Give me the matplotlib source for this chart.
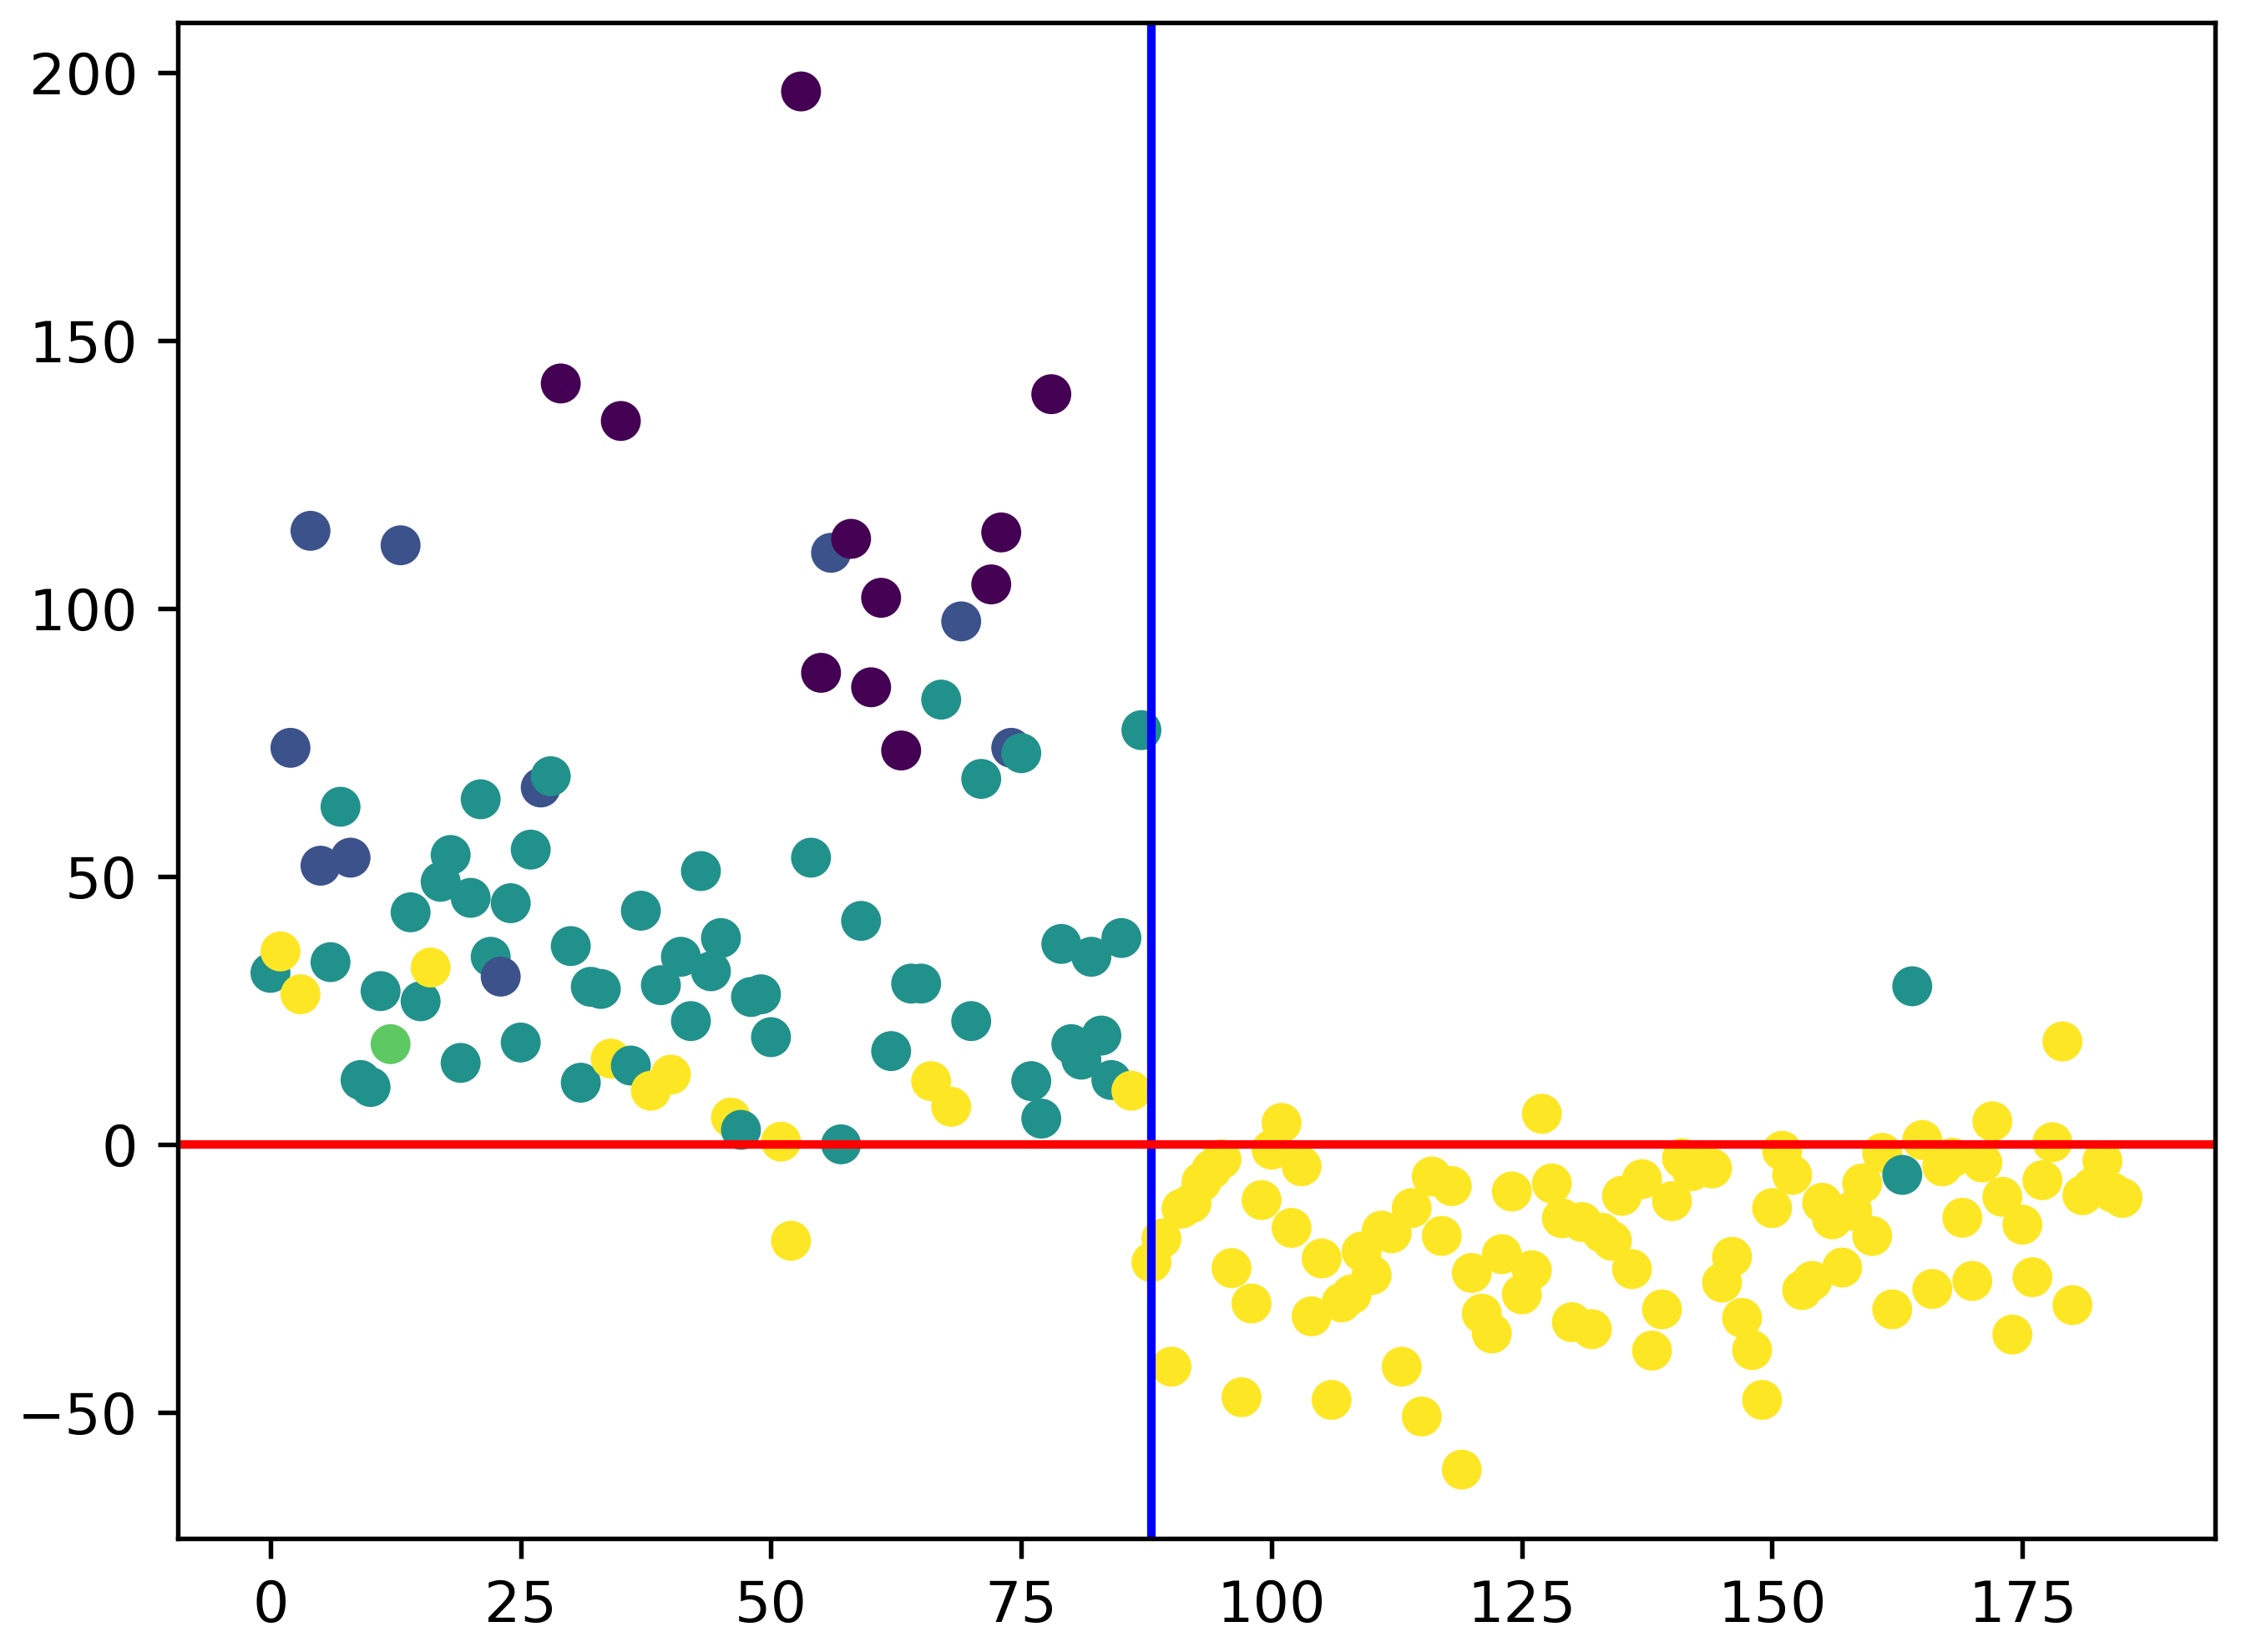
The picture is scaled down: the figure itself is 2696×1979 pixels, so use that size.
import numpy as np
import matplotlib
matplotlib.use("Agg")
import matplotlib.pyplot as plt

# y value for each index 0..185
y_values = [
    32, 36, 74, 28, 114.5, 52, 34, 63, 53.5, 12,
    10.7, 28.6, 18.7, 111.8, 43.3, 26.7, 33, 49, 54, 15.2,
    46, 64.4, 35, 31.3, 45, 19, 55, 66.6, 68.7, 142,
    37, 11.5, 29.4, 29, 16, 135, 14.7, 43.6, 10, 29.7,
    13, 35, 23, 51, 32.3, 38.5, 5, 2.7, 27.5, 28,
    20, 0.5, -18, 196.5, 53.5, 88, 110.4, 0, 113, 41.7,
    85.3, 102, 17.4, 73.5, 30, 30, 11.8, 83, 7, 97.6,
    23, 68.2, 104.5, 114.2, 74, 73, 11.8, 4.8, 140, 37.4,
    18.7, 15.8, 35, 20.3, 12, 38.5, 10, 77.3,
    -22, -17.6, -41.5, -12, -11, -7, -4.7, -2.8, -23.1, -47.2,
    -29.7, -10.4, -1.0, 4.0, -15.6, -4.1, -32.1, -21.3, -47.7, -29.5,
    -28, -20, -24.4, -16.1, -16.6, -41.5, -11.9, -50.8, -6, -17.1,
    -7.8, -60.7, -24, -31.6, -35.3, -20.5, -8.8, -28, -23.5, 5.7,
    -7.3, -13.8, -33.2, -14.5, -34.5, -16.5, -18, -9.6, -23.3, -6.5,
    -38.5, -30.8, -10.6, -2.6, -5, -3.5, -4.5, -25.8, -21, -32.4,
    -38.4, -47.7, -11.9, -1.2, -5.7, -27.2, -25.5, -10.9, -14, -23,
    -12.4, -7.3, -17.1, -1.6, -30.8, -5.7, 29.5, 0.8, -27, -4.1,
    -2.5, -13.7, -25.5, -3.4, 4.3, -9.8, -35.5, -15, -24.8, -6.7,
    0.4, 19.2, -30, -9.5, -8, -3.1, -9, -10,
]

# cluster label per point (0..4, coloured with viridis)
labels = [
    2, 4, 1, 4, 1, 1, 2, 2, 1, 2,
    2, 2, 3, 1, 2, 2, 4, 2, 2, 2,
    2, 2, 2, 1, 2, 2, 2, 1, 2, 0,
    2, 2, 2, 2, 4, 0, 2, 2, 4, 2,
    4, 2, 2, 2, 2, 2, 4, 2, 2, 2,
    2, 4, 4, 0, 2, 0, 1, 2, 0, 2,
    0, 0, 2, 0, 2, 2, 4, 2, 4, 1,
    2, 2, 0, 0, 1, 2, 2, 2, 0, 2,
    2, 2, 2, 2, 2, 2, 4, 2,
] + [4] * 75 + [2, 2] + [4] * 21

split_x = 88

x = np.arange(len(y_values))

fig = plt.figure(figsize=(2696 / 492, 1979 / 492), dpi=492)
ax = fig.add_axes([213 / 2696, 1 - 1843 / 1979, (2653 - 213) / 2696, (1843 - 27) / 1979])

ax.scatter(x, y_values, c=labels, cmap='viridis', vmin=0, vmax=4)
ax.axvline(split_x, color='blue')
ax.axhline(0, color='red')

fig.savefig('out.png', dpi=492)
